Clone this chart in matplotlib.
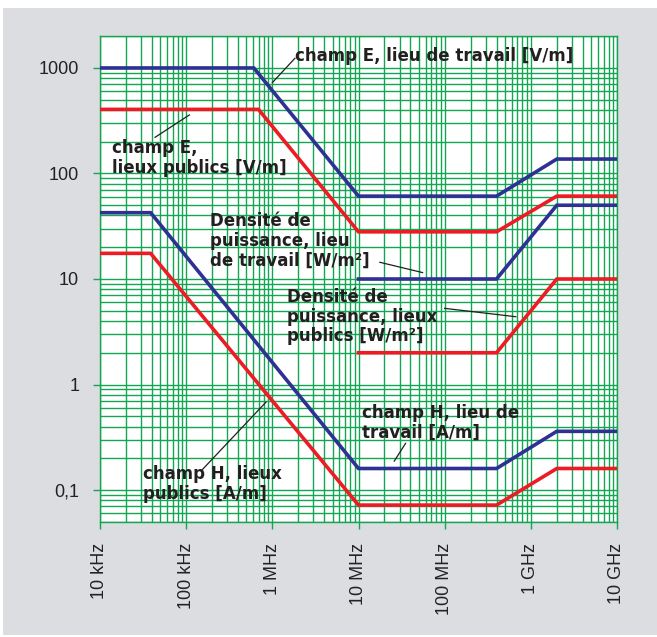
import numpy as np
import matplotlib.pyplot as plt
from matplotlib.patches import Rectangle

# frequencies in Hz, limit values
f_e = [1e4, 6.1e5, 1e7, 4e8, 2e9, 1e10]
e_travail = [1000, 1000, 61, 61, 137, 137]
f_e_pub = [1e4, 6.9e5, 1e7, 4e8, 2e9, 1e10]
e_public = [405, 405, 28, 28, 61, 61]

f_s = [1e7, 4e8, 2e9, 1e10]
s_travail = [10, 10, 50, 50]
s_public = [2, 2, 10, 10]

f_h = [1e4, 3.87e4, 1e7, 4e8, 2e9, 1e10]
h_travail = [42.5, 42.5, 0.16, 0.16, 0.36, 0.36]
h_public = [17.5, 17.5, 0.072, 0.072, 0.16, 0.16]

x_ticks = [1e4, 1e5, 1e6, 1e7, 1e8, 1e9, 1e10]
x_labels = ["10 kHz", "100 kHz", "1 MHz", "10 MHz", "100 MHz", "1 GHz", "10 GHz"]
y_ticks = [0.1, 1, 10, 100, 1000]
y_labels = ["0,1", "1", "10", "100", "1000"]

# label text, text anchor (left, middle), leader start, leader end
labels = [
    ("champ E, lieu de travail [V/m]", (1.83e6, 1300), (1.83e6, 1236), (1.0e6, 726)),
    ("champ E,\nlieux publics [V/m]", (1.37e4, 140), (4.35e4, 220), (1.09e5, 359)),
    ("Densité de\npuissance, lieu\nde travail [W/m²]", (1.89e5, 22.9), (1.77e7, 14.4), (5.54e7, 11.5)),
    ("Densité de\npuissance, lieux\npublics [W/m²]", (1.47e6, 4.39), (1.0e8, 5.27), (6.7e8, 4.39)),
    ("champ H, lieu de\ntravail [A/m]", (1.09e7, 0.431), (3.52e7, 0.277), (2.6e7, 0.188)),
    ("champ H, lieux\npublics [A/m]", (3.13e4, 0.114), (1.55e5, 0.157), (8.43e5, 0.68)),
]

green = "#12a552"
blue = "#2e3192"
red = "#ed1c24"

plt.rcParams['font.family'] = ['Liberation Sans', 'DejaVu Sans']

fig = plt.figure(figsize=(6.57, 6.37), dpi=100, facecolor="white")
fig.patches.append(Rectangle((3 / 657, 2 / 637), 654 / 657, 627 / 637,
                             transform=fig.transFigure, facecolor="#dcdde0",
                             edgecolor="none", zorder=-10))
ax = fig.add_axes([100 / 657, 1 - 521.8 / 637, 517 / 657, 485.6 / 637])
ax.set_facecolor("white")
ax.set_xscale("log")
ax.set_yscale("log")
ax.set_xlim(1e4, 1e10)
ax.set_ylim(0.05, 2000)

ax.grid(which="both", color=green, lw=1.0)
ax.set_axisbelow(True)
for s in ax.spines.values():
    s.set_color(green)
    s.set_linewidth(1.0)

ax.set_xticks(x_ticks)
ax.set_xticklabels(x_labels, rotation=90, fontsize=13, color="#222222")
ax.set_yticks(y_ticks)
ax.set_yticklabels(y_labels, fontsize=13, color="#222222")
ax.tick_params(which="major", length=5, width=1.0, color=green, pad=10)
ax.tick_params(which="minor", length=0)

lw = 2.6
ax.plot(f_e, e_travail, color=blue, lw=lw, solid_joinstyle="miter", zorder=3)
ax.plot(f_e_pub, e_public, color=red, lw=lw, solid_joinstyle="miter", zorder=3)
ax.plot(f_s, s_travail, color=blue, lw=lw, solid_joinstyle="miter", zorder=3)
ax.plot(f_s, s_public, color=red, lw=lw, solid_joinstyle="miter", zorder=3)
ax.plot(f_h, h_travail, color=blue, lw=lw, solid_joinstyle="miter", zorder=3)
ax.plot(f_h, h_public, color=red, lw=lw, solid_joinstyle="miter", zorder=3)

for txt, pos, p0, p1 in labels:
    ax.text(pos[0], pos[1], txt, ha="left", va="center", fontsize=12,
            family="DejaVu Sans", fontweight="bold", color="#231f20",
            linespacing=1.12, zorder=5)
    ax.plot([p0[0], p1[0]], [p0[1], p1[1]], color="#231f20", lw=0.9, zorder=5)

fig.savefig("out.png", dpi=100, facecolor=fig.get_facecolor())
